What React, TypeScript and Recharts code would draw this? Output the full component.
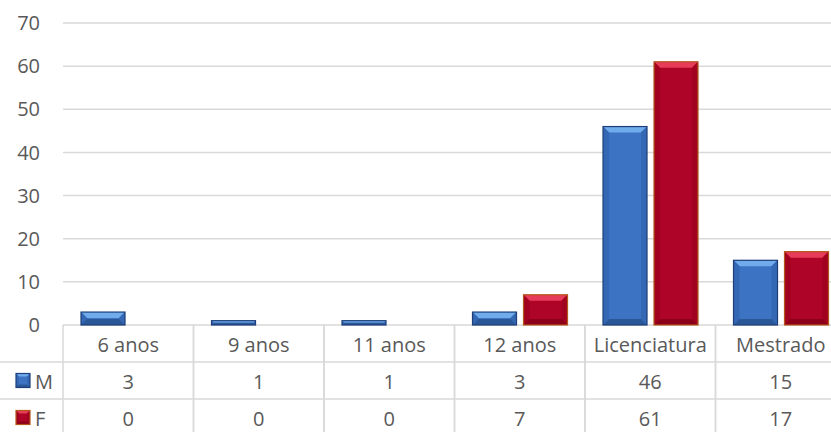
import { BarChart, Bar, XAxis, YAxis, CartesianGrid, Customized } from "recharts";

const categories = ["6 anos", "9 anos", "11 anos", "12 anos", "Licenciatura", "Mestrado"];
const valuesM = [3, 1, 1, 3, 46, 15];
const valuesF = [0, 0, 0, 7, 61, 17];
const yTicks = [0, 10, 20, 30, 40, 50, 60, 70];

const data = categories.map((name, i) => ({ name, M: valuesM[i], F: valuesF[i] }));

const FONT = "'Open Sans', sans-serif";
const TEXT = "#595959";
const LINE = "#d9d9d9";

const palette = {
  M: { face: "#3c73c2", top: "#70abec", side: "#3468b4", bottom: "#2a5798", edge: "#1d3e78" },
  F: { face: "#ae0428", top: "#e63c59", side: "#a0021f", bottom: "#8c0019", edge: "#b5561b" },
};

type Colors = typeof palette.M;

function bevel(x: number, y: number, w: number, h: number, c: Colors, size = 6) {
  const b = Math.min(size, h / 2, w / 2);
  return (
    <g>
      <rect x={x} y={y} width={w} height={h} fill={c.face} />
      <polygon points={`${x},${y} ${x + w},${y} ${x + w - b},${y + b} ${x + b},${y + b}`} fill={c.top} />
      <polygon points={`${x},${y} ${x + b},${y + b} ${x + b},${y + h - b} ${x},${y + h}`} fill={c.side} />
      <polygon points={`${x + w},${y} ${x + w},${y + h} ${x + w - b},${y + h - b} ${x + w - b},${y + b}`} fill={c.side} />
      <polygon points={`${x},${y + h} ${x + b},${y + h - b} ${x + w - b},${y + h - b} ${x + w},${y + h}`} fill={c.bottom} />
      <rect x={x} y={y} width={w} height={h} fill="none" stroke={c.edge} strokeWidth={1.2} />
    </g>
  );
}

const makeShape = (c: Colors) => (props: any) => {
  const { x, y, width, height } = props;
  if (!height || height <= 0) return <g />;
  return bevel(x, y, width, height, c);
};

// rows of the data table under the plot
const ROW_TOP = 325;
const ROW_H = 37;

function TableTick(props: any) {
  const { x, payload, index } = props;
  const half = 130.5 / 2;
  const rows = [payload.value, String(valuesM[index]), String(valuesF[index])];
  return (
    <g>
      <line x1={x - half} x2={x - half} y1={ROW_TOP} y2={ROW_TOP + ROW_H * 3} stroke={LINE} strokeWidth={1.5} />
      <line x1={x + half} x2={x + half} y1={ROW_TOP} y2={ROW_TOP + ROW_H * 3} stroke={LINE} strokeWidth={1.5} />
      {rows.map((t, r) => (
        <text
          key={r}
          x={x}
          y={ROW_TOP + ROW_H * r + ROW_H / 2 + 1}
          textAnchor="middle"
          dominantBaseline="central"
          fontFamily={FONT}
          fontSize={20}
          fill={TEXT}
        >
          {t}
        </text>
      ))}
    </g>
  );
}

function TableFrame() {
  return (
    <g>
      <line x1={0} x2={846} y1={ROW_TOP + ROW_H} y2={ROW_TOP + ROW_H} stroke={LINE} strokeWidth={1.5} />
      <line x1={0} x2={846} y1={ROW_TOP + ROW_H * 2} y2={ROW_TOP + ROW_H * 2} stroke={LINE} strokeWidth={1.5} />
      {(["M", "F"] as const).map((s, r) => {
        const cy = ROW_TOP + ROW_H * (r + 1) + ROW_H / 2;
        return (
          <g key={s}>
            {bevel(16, cy - 7, 14, 14, palette[s], 3)}
            <text x={35} y={cy + 1} dominantBaseline="central" fontFamily={FONT} fontSize={20} fill={TEXT}>
              {s}
            </text>
          </g>
        );
      })}
    </g>
  );
}

export default function App() {
  return (
    <div style={{ position: "fixed", top: 0, left: 0, width: 831, height: 432, overflow: "hidden", background: "#fff" }}>
      <BarChart
        width={846}
        height={440}
        data={data}
        margin={{ top: 23, right: 0, left: 0, bottom: 0 }}
        barCategoryGap="13.8%"
        barGap={7}
      >
        <CartesianGrid vertical={false} stroke={LINE} strokeWidth={1.5} />
        <XAxis
          dataKey="name"
          height={115}
          axisLine={false}
          tickLine={false}
          tickSize={0}
          tickMargin={0}
          interval={0}
          tick={<TableTick />}
        />
        <YAxis
          width={63}
          domain={[0, 70]}
          ticks={yTicks}
          axisLine={false}
          tickLine={false}
          tickMargin={17}
          tick={{ fontFamily: FONT, fontSize: 20, fill: TEXT }}
        />
        <Bar dataKey="M" shape={makeShape(palette.M)} isAnimationActive={false} />
        <Bar dataKey="F" shape={makeShape(palette.F)} isAnimationActive={false} />
        <Customized component={TableFrame} />
      </BarChart>
    </div>
  );
}
